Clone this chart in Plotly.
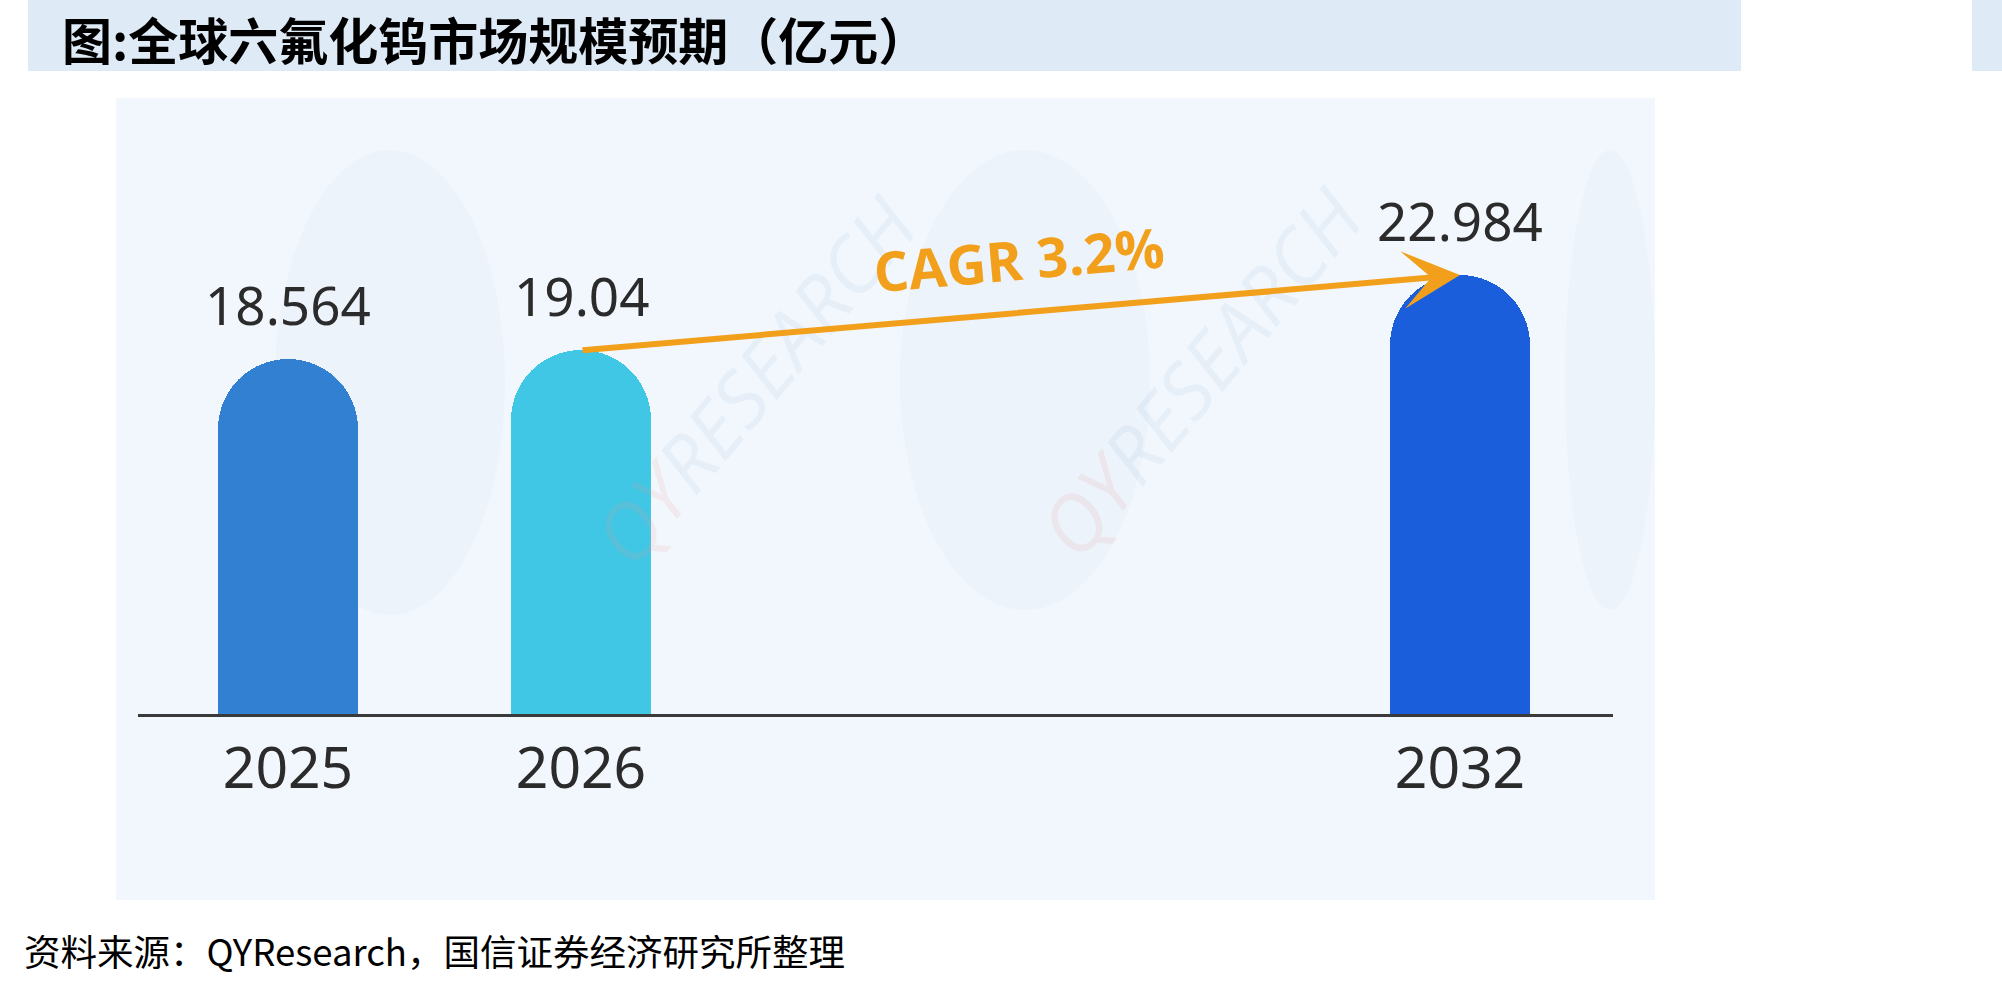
import plotly.graph_objects as go

# ---------------- data ----------------
years = ["2025", "2026", "2032"]
values = [18.564, 19.04, 22.984]
value_labels = ["18.564", "19.04", "22.984"]
bar_colors = ["#3180D2", "#40C7E5", "#1A5EDC"]
# category slots (two empty slots between 2026 and 2032, as in the original)
category_slots = ["2025", "2026", "gap1", "gap2", "2032"]
cagr_text = "CAGR 3.2%"
title_text = "图:全球六氟化钨市场规模预期（亿元）"
source_text = "资料来源：QYResearch，国信证券经济研究所整理"
watermark_text = "QYRESEARCH"

W, H = 2002, 982

def px_x(p):
    return p / W

def px_y(p):
    return 1 - p / H

slot_index = [category_slots.index(y) for y in years]

fig = go.Figure()
fig.add_trace(go.Bar(
    x=slot_index, y=values,
    marker=dict(color=bar_colors, cornerradius="50%", line=dict(width=0)),
    width=0.475,
    hovertext=years, hoverinfo="text+y",
    showlegend=False,
))

annotations = []

# faint watermarks
for cx, cy in [(567, 380), (1200, 372)]:
    annotations.append(dict(
        x=px_x(cx), y=px_y(cy), xref="paper", yref="paper", showarrow=False,
        text="<i><span style='color:rgba(235,150,150,0.14)'>" + watermark_text[:2] + "</span>"
             "<span style='color:rgba(170,195,225,0.16)'>" + watermark_text[2:] + "</span></i>",
        textangle=-50, font=dict(family="Open Sans", size=78),
    ))

for idx, v, lab in zip(slot_index, values, value_labels):
    annotations.append(dict(
        x=idx, y=v, xref="x", yref="y", text=lab, showarrow=False,
        yanchor="bottom", yshift=16,
        font=dict(family="Noto Sans", size=53, color="#2b2b2b"),
    ))

# CAGR arrow from 2026 top to 2032 top
i0, i1 = slot_index[1], slot_index[2]
annotations.append(dict(
    x=i1, y=values[2], xref="x", yref="y",
    ax=i0, ay=values[1], axref="x", ayref="y",
    showarrow=True, arrowhead=3, arrowsize=1.6, arrowwidth=6,
    arrowcolor="#F2A01C", text="",
))
annotations.append(dict(
    x=(i0 + i1) / 2, y=(values[1] + values[2]) / 2, xref="x", yref="y",
    text="<b>" + cagr_text + "</b>", showarrow=False, textangle=-5,
    yshift=54, xshift=-2,
    font=dict(family="Open Sans", size=55, color="#F2A01C"),
))

# title & source
annotations.append(dict(
    x=px_x(60), y=px_y(38), xref="paper", yref="paper", xanchor="left", yanchor="middle",
    text="<b>" + title_text + "</b>", showarrow=False,
    font=dict(family="Noto Sans CJK SC", size=50, color="#000000"),
))
annotations.append(dict(
    x=px_x(22), y=px_y(950), xref="paper", yref="paper", xanchor="left", yanchor="middle",
    text=source_text, showarrow=False,
    font=dict(family="Noto Sans CJK SC", size=36.5, color="#000000"),
))

shapes = [
    # title banner
    dict(type="rect", xref="paper", yref="paper", x0=px_x(28), x1=px_x(1741),
         y0=px_y(71), y1=1, fillcolor="#DEEAF6", line=dict(width=0), layer="below"),
    dict(type="rect", xref="paper", yref="paper", x0=px_x(1972), x1=1,
         y0=px_y(71), y1=1, fillcolor="#DEEAF6", line=dict(width=0), layer="below"),
    # chart panel
    dict(type="rect", xref="paper", yref="paper", x0=px_x(116), x1=px_x(1655),
         y0=px_y(900), y1=px_y(98), fillcolor="#F2F7FD", line=dict(width=0), layer="below"),
]
# faint watermark discs
for (x0, x1, y0, y1) in [(275, 505, 150, 615), (900, 1150, 150, 610), (1565, 1655, 150, 610)]:
    shapes.append(dict(type="circle", xref="paper", yref="paper",
                       x0=px_x(x0), x1=px_x(x1), y0=px_y(y1), y1=px_y(y0),
                       fillcolor="rgba(205,225,245,0.16)", line=dict(width=0), layer="below"))

base_px = 714
top_px = 98
px_per_unit = 19.1
ymax = (base_px - top_px) / px_per_unit

left_px, right_px = 138, 1613
center0, slot_px = 288, 293
xmin = -(center0 - left_px) / slot_px
xmax = xmin + (right_px - left_px) / slot_px

fig.update_layout(
    width=W, height=H,
    margin=dict(l=0, r=0, t=0, b=0),
    paper_bgcolor="white",
    plot_bgcolor="rgba(0,0,0,0)",
    annotations=annotations,
    shapes=shapes,
    xaxis=dict(
        tickmode="array", tickvals=slot_index, ticktext=years,
        range=[xmin, xmax], domain=[px_x(left_px), px_x(right_px)],
        showline=True, linecolor="#3a3a3a", linewidth=3,
        showgrid=False, zeroline=False, ticks="",
        ticklabelstandoff=3,
        tickfont=dict(family="Noto Sans", size=57, color="#2b2b2b"),
        fixedrange=True,
    ),
    yaxis=dict(
        range=[0, ymax], domain=[px_y(base_px), px_y(top_px)],
        visible=False, showgrid=False, zeroline=False, fixedrange=True,
    ),
    bargap=0,
)

fig.write_html("out.html")
